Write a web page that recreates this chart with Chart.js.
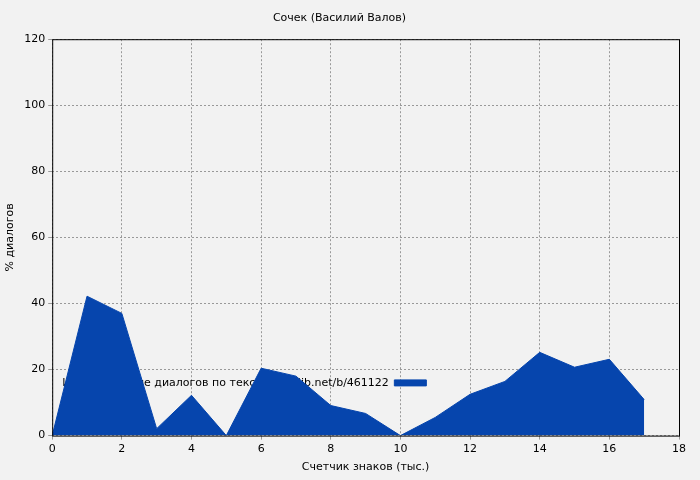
<!DOCTYPE html>
<html><head><meta charset="utf-8">
<script src="https://cdn.jsdelivr.net/npm/chart.js@4/dist/chart.umd.min.js"></script>
<style>html,body{margin:0;background:#f2f2f2}#w{width:700px;height:480px}</style>
</head><body><div id="w"><canvas id="c"></canvas></div>
<script>
const xs = [0,1,2,3,4,5,6,7,8,9,10,11,12,13,14,15,16,17];
const dialogPct = [0,42.2,37,2.1,12.2,0,20.4,18,9.1,6.7,0,5.5,12.5,16.4,25.2,20.7,23.1,10.9];
const title = 'Сочек (Василий Валов)';
const seriesLabel = 'Использование диалогов по тексту  coollib.net/b/461122';

Chart.defaults.font.family = 'DejaVu Sans';
Chart.defaults.font.size = 11;
Chart.defaults.color = '#000';

const frame = {
  id: 'frame',
  afterDraw(chart) {
    const { ctx, chartArea: a } = chart;
    ctx.save();
    ctx.strokeStyle = '#000';
    ctx.lineWidth = 1;
    ctx.strokeRect(a.left + 0.5, a.top + 0.5, a.right - a.left, a.bottom - a.top);
    ctx.restore();
  }
};

new Chart(document.getElementById('c').getContext('2d'), {
  type: 'line',
  data: {
    datasets: [{
      label: seriesLabel,
      data: xs.map((x, i) => ({ x, y: dialogPct[i] })),
      borderColor: '#0645ad',
      backgroundColor: '#0645ad',
      borderWidth: 1,
      pointRadius: 0,
      fill: 'origin',
      tension: 0
    }]
  },
  options: {
    responsive: true,
    maintainAspectRatio: false,
    animation: false,
    layout: { padding: { top: 0, right: 21, left: 0, bottom: 2 } },
    plugins: {
      title: { display: true, text: title, font: { size: 11, weight: 'normal' }, padding: { top: 12, bottom: 14 } },
      legend: {
        position: 'chartArea', align: 'end', rtl: true, textDirection: 'ltr',
        labels: { boxWidth: 32, boxHeight: 6, padding: 8, font: { size: 11 } }
      },
      tooltip: { enabled: false }
    },
    scales: {
      x: {
        type: 'linear', min: 0, max: 18,
        ticks: { stepSize: 2, color: '#000' },
        grid: { color: '#999', borderDash: [2, 2], drawTicks: true, tickLength: 4 },
        border: { display: false, dash: [2, 2] },
        title: { display: true, text: 'Счетчик знаков (тыс.)', padding: { top: 2 } }
      },
      y: {
        min: 0, max: 120,
        ticks: { stepSize: 20, color: '#000' },
        grid: { color: '#999', tickLength: 4 },
        border: { display: false, dash: [2, 2] },
        title: { display: true, text: '% диалогов' }
      }
    }
  },
  plugins: [frame]
});
</script></body></html>
